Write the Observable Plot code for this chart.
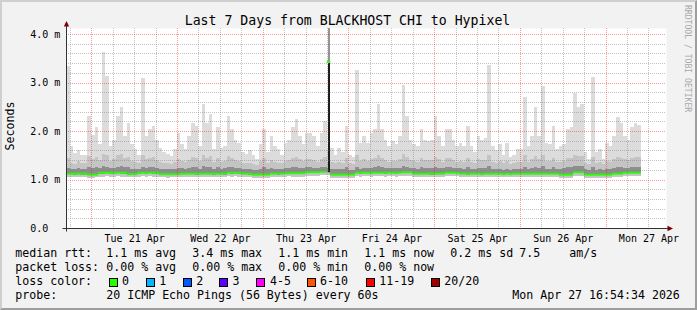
<!DOCTYPE html>
<html><head><meta charset="utf-8">
<script src="https://cdn.jsdelivr.net/npm/d3@7"></script>
<script src="https://cdn.jsdelivr.net/npm/@observablehq/plot@0.6"></script>
<style>
html,body{margin:0;padding:0;background:#f2f2f2;}
#wrap{position:relative;width:697px;height:310px;overflow:hidden;background:#f2f2f2;font-family:"DejaVu Sans Mono",monospace;color:#000;}
#wrap svg{position:absolute;left:0;top:0;}
.t{position:absolute;white-space:pre;line-height:1;}
.box{position:absolute;width:7px;height:7px;border:1px solid #000;}
#border{position:absolute;left:0;top:0;width:697px;height:310px;box-sizing:border-box;border-top:2px solid #cfcfcf;border-left:2px solid #cfcfcf;border-right:2px solid #9e9e9e;border-bottom:2px solid #9e9e9e;}
</style></head>
<body><div id="wrap"></div>
<script>
// ---- time window (local time shown as UTC) ----
const startMs = Date.UTC(2026, 3, 20, 16, 54, 34);
const endMs = Date.UTC(2026, 3, 27, 16, 54, 34);
const HOUR = 3600e3;

// ---- hourly smoke data (milliseconds, shown with the "m" unit) ----
const maxRtt = [
 3.35,1.69,1.55,1.6,1.5,1.5,2.3,1.92,2.08,1.73,
 3.63,3.13,1.7,1.82,2.3,2.5,1.9,2.17,1.73,1.63,
 1.5,3.1,1.9,2.05,2.1,1.82,1.65,1.56,1.52,1.49,
 1.63,1.96,1.73,1.63,1.9,2.17,2.1,1.7,2.55,2.17,
 2.36,1.63,2.08,1.65,1.7,2.3,2.05,1.82,1.75,1.56,
 1.52,1.6,1.5,1.43,1.73,2.05,1.56,1.9,1.7,1.63,
 1.5,1.75,1.82,2.08,2.25,1.9,1.73,1.95,1.95,1.9,
 1.7,1.95,2.2,1.62,1.65,1.5,1.65,1.56,2.1,1.5,
 1.47,3.26,1.75,1.9,1.75,1.95,2.05,2.55,2.05,1.82,
 1.7,1.8,1.73,1.9,2.95,2.3,1.82,1.73,1.7,2.05,
 1.82,1.8,1.82,2.3,1.9,1.7,2.05,2.05,1.82,1.7,
 1.75,1.7,2.1,1.7,1.56,1.9,1.82,1.85,3.36,1.7,
 1.6,1.73,1.5,1.75,1.47,1.5,1.63,1.63,2.7,1.7,
 1.9,2.5,1.9,2.92,1.75,1.73,2.1,1.63,1.7,1.73,
 2.05,2.08,2.78,2.5,2.55,1.56,1.43,3.12,1.56,1.63,
 1.43,1.75,1.7,1.9,2.28,2.17,1.9,1.82,2.08,2.17,2.13
];
const p90Rtt = [
 1.45,1.35,1.32,1.38,1.34,1.33,1.48,1.42,1.47,1.4,
 1.52,1.5,1.38,1.42,1.5,1.52,1.44,1.46,1.38,1.36,
 1.34,1.5,1.42,1.45,1.47,1.4,1.36,1.35,1.33,1.32,
 1.36,1.42,1.38,1.36,1.4,1.46,1.44,1.38,1.5,1.45,
 1.48,1.36,1.45,1.37,1.38,1.48,1.44,1.4,1.38,1.34,
 1.33,1.35,1.32,1.3,1.38,1.44,1.34,1.4,1.37,1.35,
 1.33,1.38,1.4,1.45,1.47,1.42,1.38,1.42,1.43,1.41,
 1.37,1.42,1.46,1.36,1.36,1.33,1.36,1.34,1.45,1.33,
 1.32,1.5,1.38,1.42,1.38,1.42,1.44,1.5,1.44,1.4,
 1.37,1.39,1.38,1.42,1.52,1.47,1.4,1.38,1.37,1.44,
 1.4,1.4,1.41,1.47,1.42,1.37,1.44,1.45,1.4,1.37,
 1.38,1.37,1.45,1.37,1.34,1.42,1.4,1.41,1.5,1.37,
 1.35,1.38,1.33,1.38,1.32,1.33,1.36,1.36,1.5,1.37,
 1.42,1.48,1.42,1.5,1.38,1.38,1.45,1.36,1.37,1.38,
 1.44,1.45,1.5,1.48,1.48,1.34,1.31,1.47,1.34,1.36,
 1.31,1.38,1.37,1.42,1.46,1.45,1.42,1.4,1.45,1.46,1.46
];
const p75Rtt = [
 1.24,1.22,1.21,1.23,1.22,1.21,1.26,1.24,1.25,1.23,
 1.27,1.26,1.23,1.24,1.26,1.27,1.25,1.25,1.22,1.22,
 1.22,1.26,1.24,1.25,1.25,1.23,1.22,1.21,1.21,1.21,
 1.22,1.24,1.23,1.22,1.23,1.25,1.25,1.22,1.27,1.25,
 1.26,1.22,1.25,1.22,1.23,1.26,1.25,1.24,1.23,1.21,
 1.21,1.22,1.2,1.2,1.22,1.25,1.21,1.24,1.22,1.22,
 1.21,1.23,1.24,1.25,1.26,1.24,1.23,1.25,1.25,1.24,
 1.23,1.25,1.26,1.23,1.22,1.21,1.22,1.21,1.25,1.2,
 1.2,1.26,1.22,1.24,1.23,1.24,1.25,1.27,1.25,1.24,
 1.23,1.23,1.23,1.24,1.27,1.26,1.24,1.23,1.22,1.25,
 1.23,1.23,1.24,1.26,1.24,1.23,1.26,1.26,1.24,1.23,
 1.23,1.22,1.25,1.22,1.21,1.24,1.23,1.24,1.27,1.22,
 1.21,1.22,1.2,1.22,1.2,1.21,1.22,1.22,1.26,1.22,
 1.24,1.26,1.24,1.27,1.22,1.22,1.25,1.22,1.22,1.23,
 1.25,1.25,1.27,1.27,1.27,1.21,1.2,1.25,1.2,1.21,
 1.2,1.22,1.22,1.24,1.25,1.25,1.24,1.23,1.25,1.26,1.26
];
const medianRtt = [
 1.13,1.13,1.13,1.13,1.13,1.13,1.11,1.11,1.11,1.15,
 1.15,1.15,1.15,1.15,1.15,1.15,1.15,1.12,1.12,1.12,
 1.15,1.15,1.15,1.15,1.15,1.15,1.12,1.12,1.12,1.12,
 1.12,1.12,1.13,1.13,1.13,1.13,1.13,1.13,1.13,1.13,
 1.13,1.13,1.13,1.13,1.13,1.15,1.15,1.15,1.15,1.13,
 1.13,1.13,1.11,1.11,1.11,1.11,1.11,1.13,1.13,1.13,
 1.13,1.14,1.14,1.14,1.14,1.14,1.14,1.16,1.16,1.16,
 1.16,1.17,1.17,3.44,1.11,1.11,1.11,1.11,1.11,1.11,
 1.11,1.15,1.15,1.15,1.15,1.15,1.15,1.15,1.15,1.15,
 1.15,1.15,1.15,1.15,1.16,1.16,1.16,1.13,1.13,1.13,
 1.13,1.13,1.13,1.13,1.13,1.13,1.15,1.15,1.15,1.15,
 1.13,1.13,1.12,1.13,1.13,1.13,1.12,1.13,1.13,1.13,
 1.13,1.13,1.12,1.13,1.12,1.13,1.13,1.13,1.13,1.13,
 1.13,1.13,1.13,1.13,1.13,1.13,1.13,1.13,1.11,1.11,
 1.11,1.11,1.16,1.16,1.16,1.11,1.11,1.11,1.11,1.11,
 1.11,1.11,1.11,1.13,1.13,1.13,1.15,1.15,1.15,1.15,1.15
];
const p25Rtt = [
 1.11,1.11,1.1,1.11,1.1,1.1,1.09,1.09,1.09,1.12,
 1.12,1.13,1.12,1.12,1.13,1.12,1.12,1.1,1.1,1.1,
 1.12,1.13,1.12,1.13,1.12,1.12,1.1,1.1,1.09,1.1,
 1.1,1.1,1.11,1.11,1.11,1.11,1.1,1.11,1.11,1.11,
 1.11,1.1,1.11,1.11,1.1,1.13,1.12,1.13,1.12,1.11,
 1.11,1.1,1.09,1.09,1.09,1.09,1.09,1.11,1.11,1.1,
 1.11,1.12,1.12,1.12,1.12,1.11,1.12,1.13,1.14,1.14,
 1.14,1.15,1.15,1.15,1.09,1.09,1.09,1.09,1.09,1.09,
 1.09,1.13,1.12,1.13,1.13,1.12,1.13,1.13,1.13,1.12,
 1.13,1.13,1.12,1.13,1.14,1.14,1.14,1.11,1.11,1.11,
 1.11,1.11,1.1,1.11,1.11,1.11,1.13,1.13,1.13,1.13,
 1.11,1.11,1.1,1.11,1.11,1.11,1.1,1.11,1.11,1.11,
 1.11,1.11,1.1,1.11,1.1,1.11,1.11,1.11,1.11,1.11,
 1.11,1.11,1.11,1.11,1.11,1.11,1.11,1.11,1.09,1.09,
 1.09,1.09,1.14,1.14,1.14,1.09,1.09,1.09,1.09,1.09,
 1.09,1.09,1.09,1.11,1.11,1.11,1.13,1.13,1.13,1.13,1.13
];
const minRtt = [
 1.06,1.05,1.05,1.06,1.05,1.05,1.04,1.04,1.05,1.06,
 1.06,1.07,1.06,1.06,1.07,1.06,1.06,1.05,1.05,1.05,
 1.06,1.07,1.06,1.07,1.06,1.06,1.05,1.05,1.04,1.05,
 1.05,1.05,1.06,1.06,1.06,1.06,1.05,1.06,1.06,1.06,
 1.06,1.05,1.06,1.06,1.05,1.07,1.06,1.07,1.06,1.06,
 1.06,1.05,1.04,1.04,1.04,1.04,1.04,1.06,1.06,1.05,
 1.06,1.06,1.07,1.06,1.06,1.06,1.06,1.07,1.08,1.08,
 1.08,1.09,1.09,1.09,1.04,1.04,1.04,1.04,1.04,1.04,
 1.04,1.07,1.06,1.07,1.07,1.06,1.07,1.07,1.07,1.06,
 1.07,1.07,1.06,1.07,1.08,1.08,1.08,1.06,1.06,1.06,
 1.06,1.06,1.05,1.06,1.06,1.06,1.07,1.07,1.07,1.07,
 1.06,1.06,1.05,1.06,1.06,1.06,1.05,1.06,1.06,1.06,
 1.06,1.06,1.05,1.06,1.05,1.06,1.06,1.06,1.06,1.06,
 1.06,1.06,1.06,1.06,1.06,1.06,1.06,1.06,1.04,1.04,
 1.04,1.04,1.08,1.08,1.08,1.04,1.04,1.04,1.04,1.04,
 1.04,1.04,1.04,1.06,1.06,1.06,1.07,1.07,1.07,1.07,1.07
];
// outlier step: hour index and its highest ping (beyond the top of the chart)
const spikeHours = [73];
const spikeTops = [4.6];

// ---- axis ticks ----
const yTickValues = [0, 1, 2, 3, 4];
const yTickLabels = ["0.0", "1.0 m", "2.0 m", "3.0 m", "4.0 m"];
const xLabelDays = [21, 22, 23, 24, 25, 26, 27];
const xTickLabels = ["Tue 21 Apr", "Wed 22 Apr", "Thu 23 Apr", "Fri 24 Apr", "Sat 25 Apr", "Sun 26 Apr", "Mon 27 Apr"];

// ---- legend ----
const titleText = "Last 7 Days from BLACKHOST CHI to Hypixel";
const yTitle = "Seconds";
const rttStats = ["1.1 ms avg", "3.4 ms max", "1.1 ms min", "1.1 ms now", "0.2 ms sd"];
const rttExtra = ["7.5", "am/s"];
const lossStats = ["0.00 % avg", "0.00 % max", "0.00 % min", "0.00 % now"];
const lossLabels = ["0", "1", "2", "3", "4-5", "6-10", "11-19", "20/20"];
const lossColors = ["#26ff00", "#00b8ff", "#0059ff", "#5e00ff", "#ff00ff", "#ff5500", "#ff0000", "#a10000"];
const probeText = "20 ICMP Echo Pings (56 Bytes) every 60s";
const stampText = "Mon Apr 27 16:54:34 2026";
const watermark = "RRDTOOL / TOBI OETIKER";

// ---- build table ----
const rows = maxRtt.map((m, i) => ({
  t0: new Date(startMs + i * HOUR), t1: new Date(startMs + (i + 1) * HOUR),
  lo: minRtt[i], q1: p25Rtt[i], med: medianRtt[i], q3: p75Rtt[i], hi: p90Rtt[i], max: m
}));
const spikes = spikeHours.map((h, i) => ({
  t: new Date(startMs + (h + 0.5) * HOUR), lo: p25Rtt[h], med: medianRtt[h], top: spikeTops[i]
}));
const xMajor = xLabelDays.map(d => new Date(Date.UTC(2026, 3, d)));
const xMinor = d3.utcHour.every(6).range(new Date(startMs), new Date(endMs)).filter(d => d.getUTCHours() !== 0);
const xLabelTimes = xLabelDays.map((d, i) => ({t: new Date(Date.UTC(2026, 3, d, 12)), label: xTickLabels[i]}));
const yMinor = d3.range(1, 21).map(i => i / 5).filter(v => Math.abs(v - Math.round(v)) > 1e-6);
const yTicks = yTickValues.map((v, i) => ({v, label: yTickLabels[i]}));
const crisp = {shapeRendering: "crispEdges"};

const chart = Plot.plot({
  width: 697, height: 310,
  marginLeft: 66, marginRight: 31, marginTop: 28, marginBottom: 82,
  x: {type: "utc", domain: [new Date(startMs), new Date(endMs)], axis: null},
  y: {domain: [0, 4.124], axis: null},
  style: {background: "transparent", fontFamily: "'DejaVu Sans Mono', monospace", fontSize: "10px", color: "#000", overflow: "visible"},
  marks: [
    Plot.frame({fill: "#ffffff", stroke: "none"}),
    Plot.rect(rows, {x1: "t0", x2: "t1", y1: "lo", y2: "max", fill: "#dcdcdc", ...crisp}),
    Plot.rect(rows, {x1: "t0", x2: "t1", y1: "lo", y2: "hi", fill: "#c4c4c4", ...crisp}),
    Plot.rect(rows, {x1: "t0", x2: "t1", y1: "q1", y2: "q3", fill: "#8e8e8e", ...crisp}),
    Plot.ruleX(spikes, {x: "t", y1: "lo", y2: d => d.med - 0.03, stroke: "#1c1c1c", strokeWidth: 2}),
    Plot.ruleX(spikes, {x: "t", y1: "med", y2: "top", stroke: "#2a2a2a", strokeWidth: 1, clip: true}),
    Plot.ruleY(rows, {x1: "t0", x2: "t1", y: "med", stroke: "#26ff00", strokeWidth: 2, ariaLabel: "median"}),
    Plot.text(xLabelTimes, {x: "t", y: 0, text: "label", dy: 10, fill: "#000"}),
    Plot.text(yTicks, {frameAnchor: "left", y: "v", text: "label", textAnchor: "start", dx: -36.3, fill: "#000"})
  ]
});

const wrap = document.getElementById("wrap");
wrap.appendChild(chart);

// grid (drawn over the smoke, below the median line), snapped to pixels through the scales
const sx = chart.scale("x").apply, sy = chart.scale("y").apply;
const svg = d3.select(chart);
const medNode = svg.select('[aria-label="median"]').node();
const grid = d3.select(chart.insertBefore(document.createElementNS("http://www.w3.org/2000/svg", "g"), medNode));
const fx0 = sx(new Date(startMs)), fx1 = sx(new Date(endMs)), fy0 = sy(0), fy1 = sy(4.124);
function hLine(v, color, op) {
  const y = Math.round(sy(v)) + 0.5;
  grid.append("line").attr("x1", fx0).attr("x2", fx1).attr("y1", y).attr("y2", y)
    .attr("stroke", color).attr("stroke-opacity", op).attr("stroke-dasharray", "1,1");
}
function vLine(t, color, op) {
  const x = Math.round(+sx(t));
  let d = "";
  for (let y = Math.round(fy1); y < Math.round(fy0); y += 2) d += `M${x},${y}h1v1h-1z`;
  grid.append("path").attr("d", d).attr("fill", color).attr("fill-opacity", op);
}
yMinor.forEach(v => hLine(v, "#7a7a7a", 0.45));
xMinor.forEach(t => vLine(t, "#7a7a7a", 0.45));
yTickValues.filter(v => v > 0).forEach(v => hLine(v, "#ff0000", 0.4));
xMajor.forEach(t => vLine(t, "#ff0000", 0.4));

// axes with arrows
const ax = Math.round(fx0) + 0.5, ay = Math.round(fy0) + 0.5;
svg.append("line").attr("x1", ax - 4).attr("x2", fx1 + 2).attr("y1", ay).attr("y2", ay).attr("stroke", "#333");
svg.append("line").attr("x1", ax).attr("x2", ax).attr("y1", ay + 3).attr("y2", fy1 - 2).attr("stroke", "#333");
svg.append("path").attr("d", `M${fx1 + 1.5},${ay - 2.7}L${fx1 + 7},${ay}L${fx1 + 1.5},${ay + 2.7}Z`).attr("fill", "#7f0000");
svg.append("path").attr("d", `M${ax - 2.7},${fy1 - 1.5}L${ax},${fy1 - 7}L${ax + 2.7},${fy1 - 1.5}Z`).attr("fill", "#7f0000");

// html text
function addText(str, left, top, size, extra) {
  const d = document.createElement("div");
  d.className = "t";
  d.textContent = str;
  d.style.left = left + "px";
  d.style.top = top + "px";
  d.style.fontSize = size + "px";
  if (extra) Object.assign(d.style, extra);
  wrap.appendChild(d);
  return d;
}
const LF = 11.6;
const rowBase = [257.7, 271.7, 285.7, 299.7];
const rowTop = rowBase.map(b => b - 0.846 * LF);
addText(titleText, 0, 25 - 0.846 * 13.2, 13.2, {width: "695px", textAlign: "center"});
addText(yTitle, 10.5, 126, LF, {transform: "translate(-50%,-50%) rotate(-90deg)"});
addText(watermark, 683.6, 4.5, 8.1, {writingMode: "vertical-rl", color: "#a9a9a9"});

const colX = [106.3, 192.3, 278.3, 364.3, 450.3];
addText("median rtt:", 15.3, rowTop[0], LF);
rttStats.forEach((s, i) => addText(s, colX[i], rowTop[0], LF));
addText(rttExtra[0], 519.3, rowTop[0], LF);
addText(rttExtra[1], 569.3, rowTop[0], LF);
addText("packet loss:", 15.3, rowTop[1], LF);
lossStats.forEach((s, i) => addText(s, colX[i], rowTop[1], LF));
addText("loss color:", 15.3, rowTop[2], LF);
const boxX = [108.7, 145.7, 182.7, 219.3, 256.3, 306.7, 365.7, 430.7];
const labX = [122, 159.3, 196.3, 232.6, 270, 320, 379.3, 444.3];
lossLabels.forEach((s, i) => {
  const b = document.createElement("div");
  b.className = "box";
  b.style.left = Math.round(boxX[i]) + "px";
  b.style.top = "278px";
  b.style.background = lossColors[i];
  wrap.appendChild(b);
  addText(s, labX[i], rowTop[2], LF);
});
addText("probe:", 15.3, rowTop[3], LF);
addText(probeText, 106.3, rowTop[3], LF);
addText(stampText, 512.3, rowTop[3], LF);

const border = document.createElement("div");
border.id = "border";
wrap.appendChild(border);
</script>
</body></html>
